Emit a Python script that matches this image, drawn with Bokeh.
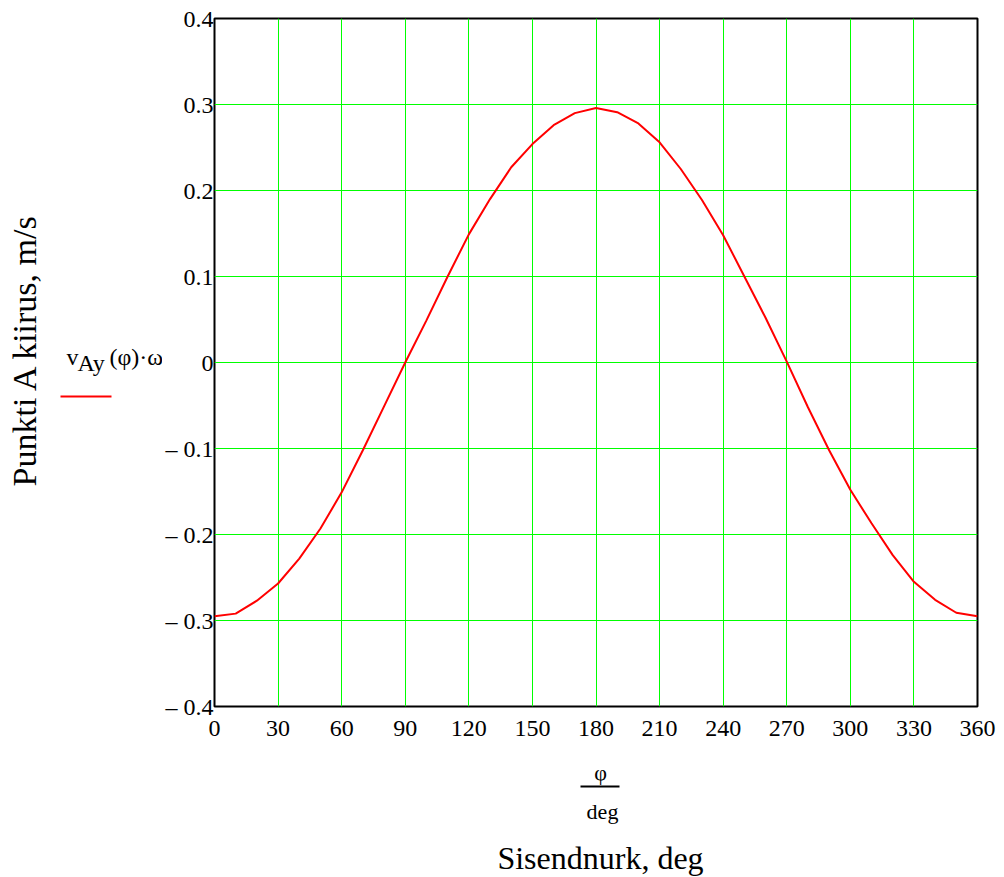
import math
from bokeh.plotting import figure
from bokeh.models import Range1d, FixedTicker
from bokeh.layouts import row, column
from bokeh.core.properties import value
from bokeh.embed import file_html
from bokeh.resources import INLINE

# Data (input angle in degrees, velocity in m/s)
phi_deg = [0, 10, 20, 30, 40, 50, 60, 70, 80, 90, 100, 110, 120, 130, 140, 150,
           160, 170, 180, 190, 200, 210, 220, 230, 240, 250, 260, 270, 280, 290,
           300, 310, 320, 330, 340, 350, 360]
v_ay = [-0.295, -0.292, -0.277, -0.257, -0.228, -0.193, -0.151, -0.102, -0.051, 0.000,
        0.049, 0.100, 0.149, 0.190, 0.227, 0.254, 0.276, 0.290, 0.296, 0.291,
        0.278, 0.256, 0.225, 0.189, 0.148, 0.100, 0.052, 0.001, -0.052, -0.102,
        -0.148, -0.187, -0.224, -0.255, -0.276, -0.291, -0.295]

x_ticks = [0, 30, 60, 90, 120, 150, 180, 210, 240, 270, 300, 330, 360]
y_ticks = [-0.4, -0.3, -0.2, -0.1, 0.0, 0.1, 0.2, 0.3, 0.4]
y_tick_labels = ["\u2013 0.4", "\u2013 0.3", "\u2013 0.2", "\u2013 0.1", "0", "0.1", "0.2", "0.3", "0.4"]

y_title = "Punkti A kiirus, m/s"
x_title = "Sisendnurk, deg"
legend_parts = ["v", "Ay", "(\u03c6)\u00b7\u03c9"]
frac_num = "\u03c6"
frac_den = "deg"

FONT = "Liberation Serif"
W, H = 1004, 877
LEFT_W = 162
MAIN_H = 751
FRAME_TOP, FRAME_BOTTOM = 18, 706
SHIFT = 0.3  # baseline correction (in em) for text glyphs

# ---------------- main chart ----------------
p = figure(width=W - LEFT_W, height=MAIN_H, output_backend="svg", toolbar_location=None,
           x_range=Range1d(0, 360), y_range=Range1d(-0.4, 0.4),
           min_border_left=214 - LEFT_W, min_border_right=27, min_border_top=FRAME_TOP,
           min_border_bottom=MAIN_H - FRAME_BOTTOM)
p.background_fill_color = "white"
p.border_fill_color = "white"
p.outline_line_color = "black"
p.outline_line_width = 2

p.line(phi_deg, v_ay, line_color="#ff0000", line_width=2)

for ax in (p.xaxis[0], p.yaxis[0]):
    ax.axis_line_color = None
    ax.major_tick_line_color = None
    ax.minor_tick_line_color = None
    ax.major_tick_out = 0
    ax.major_tick_in = 0
    ax.minor_tick_out = 0
    ax.minor_tick_in = 0
    ax.major_label_text_font = FONT
    ax.major_label_text_font_size = "24px"
    ax.major_label_text_color = "black"

p.xaxis.ticker = FixedTicker(ticks=x_ticks)
p.yaxis.ticker = FixedTicker(ticks=y_ticks)
p.yaxis.major_label_overrides = {t: s for t, s in zip(y_ticks, y_tick_labels)}
p.xaxis.major_label_standoff = 14
p.yaxis.major_label_standoff = 1

p.grid.grid_line_color = "#00ff00"
p.grid.grid_line_width = 1
p.grid.grid_line_alpha = 1.0


def deco_fig(w, h, xr, yr):
    """A plain figure whose data coordinates are page pixels (y grows downwards)."""
    f = figure(width=w, height=h, output_backend="svg", toolbar_location=None,
               x_range=Range1d(*xr), y_range=Range1d(*yr),
               x_axis_type=None, y_axis_type=None, min_border=0)
    f.outline_line_color = None
    f.grid.visible = False
    f.background_fill_color = "white"
    f.border_fill_color = "white"
    return f


def put_text(f, x, y, txt, size, align="left", angle=0.0):
    f.text(x=[x], y=[y], text=[txt], angle=angle, text_align=align,
           text_baseline="alphabetic", text_font=value(FONT),
           text_font_size=f"{size}px", text_color="black")

# ---------------- left panel: y title + legend ----------------
# in a row, this panel's frame is aligned with the chart frame (page y 18..706)
left = deco_fig(LEFT_W, MAIN_H, (0, LEFT_W), (FRAME_BOTTOM, FRAME_TOP))
put_text(left, 34 - SHIFT * 34, 349, y_title, 34, align="center", angle=math.pi / 2)
put_text(left, 66, 364 - SHIFT * 24, legend_parts[0], 24)
put_text(left, 77, 370 - SHIFT * 24, legend_parts[1], 24)
put_text(left, 109, 364 - SHIFT * 24, legend_parts[2], 24)
left.line(x=[60, 111], y=[396, 396], line_color="#ff0000", line_width=2)

# ---------------- bottom panel: x fraction + x title ----------------
bottom = deco_fig(W, H - MAIN_H, (0, W), (H, MAIN_H))
put_text(bottom, 600, 779 - SHIFT * 22, frac_num, 22, align="center")
bottom.line(x=[580, 619], y=[786, 786], line_color="black", line_width=2)
put_text(bottom, 602, 818 - SHIFT * 22, frac_den, 22, align="center")
put_text(bottom, 600, 867 - SHIFT * 32, x_title, 32, align="center")

layout = column(row(left, p, spacing=0), bottom, spacing=0)

open("out.html", "w").write(file_html(layout, INLINE))
